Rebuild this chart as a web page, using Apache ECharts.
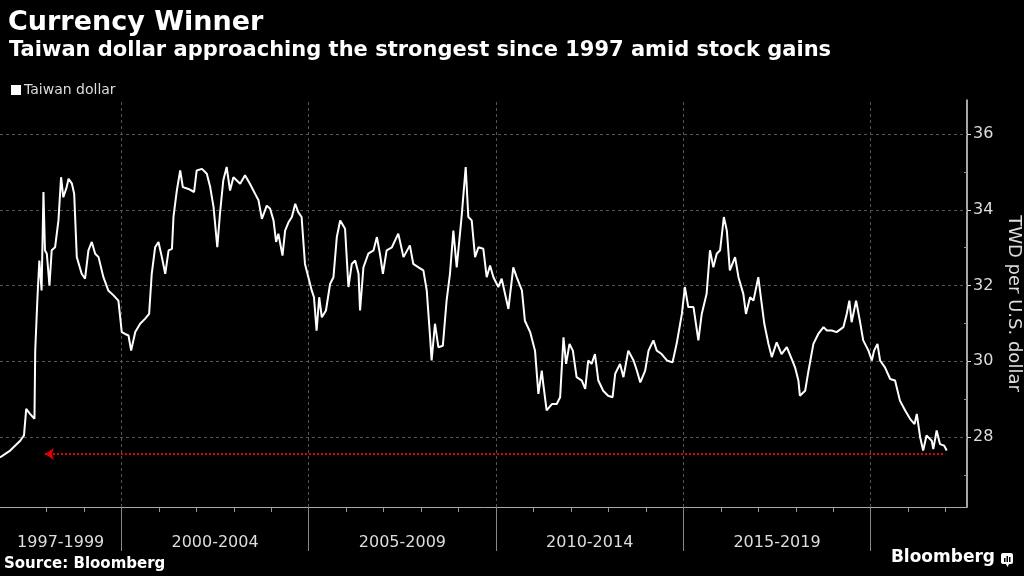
<!DOCTYPE html>
<html>
<head>
<meta charset="utf-8">
<script src="https://cdn.jsdelivr.net/npm/echarts@6/dist/echarts.min.js"></script>
<style>
  html, body { margin: 0; padding: 0; background: #000; }
  #chart { width: 1024px; height: 576px; }
</style>
</head>
<body>
<div id="chart"></div>
<script>
// decimal year of each reading
const years = [
  1996.76, 1997.03, 1997.30, 1997.40, 1997.46, 1997.56, 1997.68, 1997.70, 1997.76, 1997.81,
  1997.87, 1997.92, 1997.96, 1998.01, 1998.08, 1998.14, 1998.23, 1998.32, 1998.39, 1998.45,
  1998.54, 1998.59, 1998.68, 1998.74, 1998.81, 1998.94, 1999.03, 1999.12, 1999.21, 1999.30,
  1999.39, 1999.52, 1999.65, 1999.79, 1999.92, 2000.01, 2000.10, 2000.19, 2000.26, 2000.37,
  2000.50, 2000.63, 2000.74, 2000.81, 2000.90, 2000.99, 2001.08, 2001.17, 2001.26, 2001.35,
  2001.39, 2001.48, 2001.57, 2001.64, 2001.79, 2001.94, 2002.01, 2002.15, 2002.28, 2002.37,
  2002.46, 2002.56, 2002.63, 2002.72, 2002.81, 2002.90, 2002.99,
  2003.17, 2003.30, 2003.43, 2003.57, 2003.66, 2003.75, 2003.88, 2003.97, 2004.06, 2004.13,
  2004.19, 2004.30, 2004.37, 2004.46, 2004.55, 2004.64, 2004.72, 2004.81, 2004.90, 2004.99,
  2005.08, 2005.14, 2005.21, 2005.28, 2005.35, 2005.46, 2005.57, 2005.66, 2005.75, 2005.84,
  2005.97, 2006.06, 2006.15, 2006.24, 2006.33, 2006.37, 2006.46, 2006.59, 2006.73, 2006.82,
  2006.90, 2006.98, 2007.08, 2007.22, 2007.39, 2007.53, 2007.70, 2007.79, 2007.93, 2008.06,
  2008.15, 2008.24, 2008.28, 2008.37, 2008.46, 2008.58, 2008.68, 2008.77, 2008.86, 2008.95,
  2009.08, 2009.19, 2009.26, 2009.35, 2009.44, 2009.53,
  2009.66, 2009.75, 2009.84, 2009.93, 2010.06, 2010.15, 2010.33, 2010.46, 2010.55, 2010.69,
  2010.77, 2010.91, 2011.04, 2011.13, 2011.22, 2011.26, 2011.35, 2011.49, 2011.62, 2011.71,
  2011.80, 2011.87, 2011.96, 2012.05, 2012.15, 2012.29, 2012.38, 2012.46, 2012.55, 2012.64,
  2012.73, 2012.86, 2012.99, 2013.11, 2013.18, 2013.31, 2013.40, 2013.53, 2013.67, 2013.76,
  2013.85, 2013.98, 2014.07, 2014.20, 2014.29, 2014.42, 2014.56, 2014.71, 2014.82, 2014.96,
  2015.04, 2015.13, 2015.27, 2015.40, 2015.49, 2015.62, 2015.71, 2015.80, 2015.89,
  2015.98, 2016.08, 2016.16, 2016.24, 2016.38, 2016.47, 2016.60, 2016.67, 2016.78, 2016.87,
  2017.00, 2017.09, 2017.16, 2017.27, 2017.36, 2017.49, 2017.62, 2017.76, 2017.89, 2017.98,
  2018.07, 2018.11, 2018.25, 2018.34, 2018.47, 2018.60, 2018.74, 2018.83, 2018.96, 2019.09,
  2019.27, 2019.36, 2019.43, 2019.49, 2019.61, 2019.71, 2019.80, 2019.94, 2020.03, 2020.09,
  2020.18, 2020.25, 2020.38, 2020.52, 2020.65, 2020.78, 2020.92, 2021.05, 2021.17, 2021.23,
  2021.32, 2021.40, 2021.49, 2021.63, 2021.67, 2021.76, 2021.85, 2021.96, 2022.03
];
// TWD per U.S. dollar
const twd = [
  27.46, 27.64, 27.90, 28.04, 28.74, 28.61, 28.48, 30.28, 31.69, 32.66,
  31.87, 34.47, 32.93, 32.84, 32.00, 32.93, 33.01, 33.72, 34.86, 34.33,
  34.60, 34.82, 34.69, 34.42, 32.75, 32.31, 32.18, 32.93, 33.15, 32.84,
  32.75, 32.22, 31.87, 31.74, 31.60, 30.77, 30.72, 30.68, 30.28, 30.77,
  30.99, 31.12, 31.25, 32.31, 33.01, 33.15, 32.75, 32.31, 32.93, 32.97,
  33.81, 34.51, 35.04, 34.60, 34.55, 34.47, 35.04, 35.08, 34.95, 34.60,
  34.07, 33.01, 33.89, 34.78, 35.13, 34.51, 34.86,
  34.69, 34.91, 34.69, 34.42, 34.25, 33.76, 34.11, 34.03, 33.72, 33.15,
  33.37, 32.79, 33.45, 33.67, 33.81, 34.16, 33.94, 33.81, 32.57, 32.22,
  31.87, 31.69, 30.81, 31.69, 31.16, 31.34, 32.04, 32.22, 33.28, 33.72,
  33.50, 31.96, 32.57, 32.66, 32.31, 31.34, 32.48, 32.84, 32.93, 33.28,
  32.84, 32.31, 32.93, 33.01, 33.37, 32.75, 33.06, 32.57, 32.48, 32.40,
  31.87, 30.63, 30.02, 30.99, 30.37, 30.41, 31.60, 32.31, 33.45, 32.48,
  33.81, 35.13, 33.81, 33.72, 32.75, 33.01,
  32.97, 32.22, 32.53, 32.22, 31.96, 32.18, 31.38, 32.48, 32.22, 31.87,
  31.07, 30.77, 30.28, 29.14, 29.75, 29.40, 28.70, 28.87, 28.87, 29.05,
  30.63, 29.93, 30.46, 30.28, 29.58, 29.49, 29.27, 30.02, 29.93, 30.19,
  29.49, 29.22, 29.09, 29.05, 29.67, 29.93, 29.58, 30.28, 30.02, 29.75,
  29.44, 29.75, 30.28, 30.55, 30.28, 30.19, 30.02, 29.97, 30.46, 31.25,
  31.96, 31.43, 31.43, 30.55, 31.25, 31.78, 32.93, 32.48, 32.84,
  32.93, 33.81, 33.45, 32.40, 32.75, 32.22, 31.78, 31.25, 31.69, 31.60,
  32.22, 31.52, 30.99, 30.46, 30.11, 30.50, 30.19, 30.37, 30.06, 29.84,
  29.49, 29.09, 29.22, 29.75, 30.46, 30.72, 30.90, 30.81, 30.81, 30.77,
  30.90, 31.25, 31.60, 31.03, 31.60, 31.07, 30.55, 30.28, 30.02, 30.28,
  30.46, 30.02, 29.84, 29.53, 29.49, 28.96, 28.70, 28.48, 28.34, 28.61,
  27.99, 27.64, 28.04, 27.90, 27.68, 28.17, 27.81, 27.77, 27.64
];

const periodLabels = ['1997-1999', '2000-2004', '2005-2009', '2010-2014', '2015-2019'];
const periodCenters = [1998.38, 2002.5, 2007.5, 2012.5, 2017.5];
const periodBounds = [2000, 2005, 2010, 2015, 2020];
const yearTicks = [1998, 1999, 2000, 2001, 2002, 2003, 2004, 2005, 2006, 2007, 2008, 2009, 2010,
  2011, 2012, 2013, 2014, 2015, 2016, 2017, 2018, 2019, 2020, 2021, 2022];
const yLabels = [28, 30, 32, 34, 36];
const yMinor = [27, 29, 31, 33, 35];
// strongest-since-1997 marker
const lowLevel = 27.55;
const lowFrom = 1997.96;
const lowTo = 2021.99;

const xMin = 1996.76, xMax = 2022.57;
const yMin = 26.15, yMax = 36.9;

const chart = echarts.init(document.getElementById('chart'));
const font = 'DejaVu Sans';

const option = {
  backgroundColor: '#000',
  animation: false,
  textStyle: { fontFamily: font },
  title: [
    { text: 'Currency Winner', left: 3, top: 4,
      textStyle: { color: '#fff', fontSize: 27, fontWeight: 'bold', fontFamily: font } },
    { text: 'Taiwan dollar approaching the strongest since 1997 amid stock gains', left: 4, top: 35,
      textStyle: { color: '#fff', fontSize: 21, fontWeight: 'bold', fontFamily: font } }
  ],
  legend: {
    data: ['Taiwan dollar'],
    left: 6, top: 78,
    icon: 'rect', itemWidth: 10, itemHeight: 10, itemGap: 4,
    textStyle: { color: '#ddd', fontSize: 14, fontFamily: font, padding: [0, 0, 0, -2] }
  },
  grid: { left: 0, right: 57, top: 100, bottom: 69, outerBoundsMode: 'none', containLabel: false },
  xAxis: [
    {
      type: 'value', min: xMin, max: xMax,
      axisLine: { lineStyle: { color: '#aaa', width: 1 } },
      axisTick: { customValues: yearTicks, length: 5, lineStyle: { color: '#999' } },
      axisLabel: {
        customValues: periodCenters, margin: 28, color: '#ddd', fontSize: 16, fontFamily: font,
        formatter: function (v) {
          const i = periodCenters.findIndex(c => Math.abs(c - v) < 0.01);
          return i >= 0 ? periodLabels[i] : '';
        }
      },
      splitLine: { show: false }
    },
    {
      type: 'value', min: xMin, max: xMax, position: 'bottom',
      axisLine: { show: false },
      axisTick: { customValues: periodBounds, length: 44, lineStyle: { color: '#888' } },
      axisLabel: { show: false },
      splitLine: { show: false }
    }
  ],
  yAxis: [
    {
      type: 'value', position: 'right', min: yMin, max: yMax,
      name: 'TWD per U.S. dollar', nameLocation: 'middle', nameRotate: -90, nameGap: 30,
      nameTextStyle: { color: '#ddd', fontSize: 18, fontFamily: font },
      axisLine: { show: true, lineStyle: { color: '#ddd', width: 1.5 } },
      axisTick: { show: true, customValues: yLabels, length: 4, lineStyle: { color: '#ddd' } },
      axisLabel: { customValues: yLabels, color: '#ddd', fontSize: 16, margin: 6, fontFamily: font },
      splitLine: { show: false }
    },
    {
      type: 'value', position: 'right', min: yMin, max: yMax,
      axisLine: { show: false },
      axisTick: { show: true, inside: true, customValues: yMinor, length: 3, lineStyle: { color: '#999' } },
      axisLabel: { show: false },
      splitLine: { show: false }
    }
  ],
  series: [
    {
      name: 'grid',
      type: 'line',
      data: [],
      markLine: {
        silent: true, z: 1, symbol: 'none', animation: false,
        label: { show: false },
        lineStyle: { color: '#555', type: [3, 3], width: 1 },
        data: yLabels.map(v => ({ yAxis: v })).concat(periodBounds.map(v => ({ xAxis: v })))
      }
    },
    {
      name: 'Taiwan dollar',
      type: 'line',
      data: years.map((y, i) => [y, twd[i]]),
      showSymbol: false,
      itemStyle: { color: '#fff' },
      lineStyle: { color: '#fff', width: 2 },
      markLine: {
        silent: true, animation: false,
        symbol: ['arrow', 'none'], symbolSize: [9, 9],
        label: { show: false },
        lineStyle: { color: '#e00000', type: [2, 2], width: 2 },
        data: [[{ coord: [lowFrom, lowLevel] }, { coord: [lowTo, lowLevel] }]]
      }
    }
  ],
  graphic: [
    { type: 'text', left: 4, top: 557,
      style: { text: 'Source: Bloomberg', fill: '#fff', font: 'bold 15px "DejaVu Sans"' } },
    { type: 'text', right: 29, top: 549,
      style: { text: 'Bloomberg', fill: '#fff', font: 'bold 17px "DejaVu Sans"' } },
    { type: 'group', right: 11, top: 553, children: [
      { type: 'rect', shape: { x: 0, y: 0, width: 12, height: 11, r: 2 }, style: { fill: '#fff' } },
      { type: 'polygon', shape: { points: [[5, 11], [8, 11], [6.5, 14]] }, style: { fill: '#fff' } },
      { type: 'rect', shape: { x: 3, y: 5, width: 1.5, height: 4 }, style: { fill: '#000' } },
      { type: 'rect', shape: { x: 5.5, y: 3, width: 1.5, height: 6 }, style: { fill: '#000' } },
      { type: 'rect', shape: { x: 8, y: 4, width: 1.5, height: 5 }, style: { fill: '#000' } }
    ] }
  ]
};

chart.setOption(option);
</script>
</body>
</html>
